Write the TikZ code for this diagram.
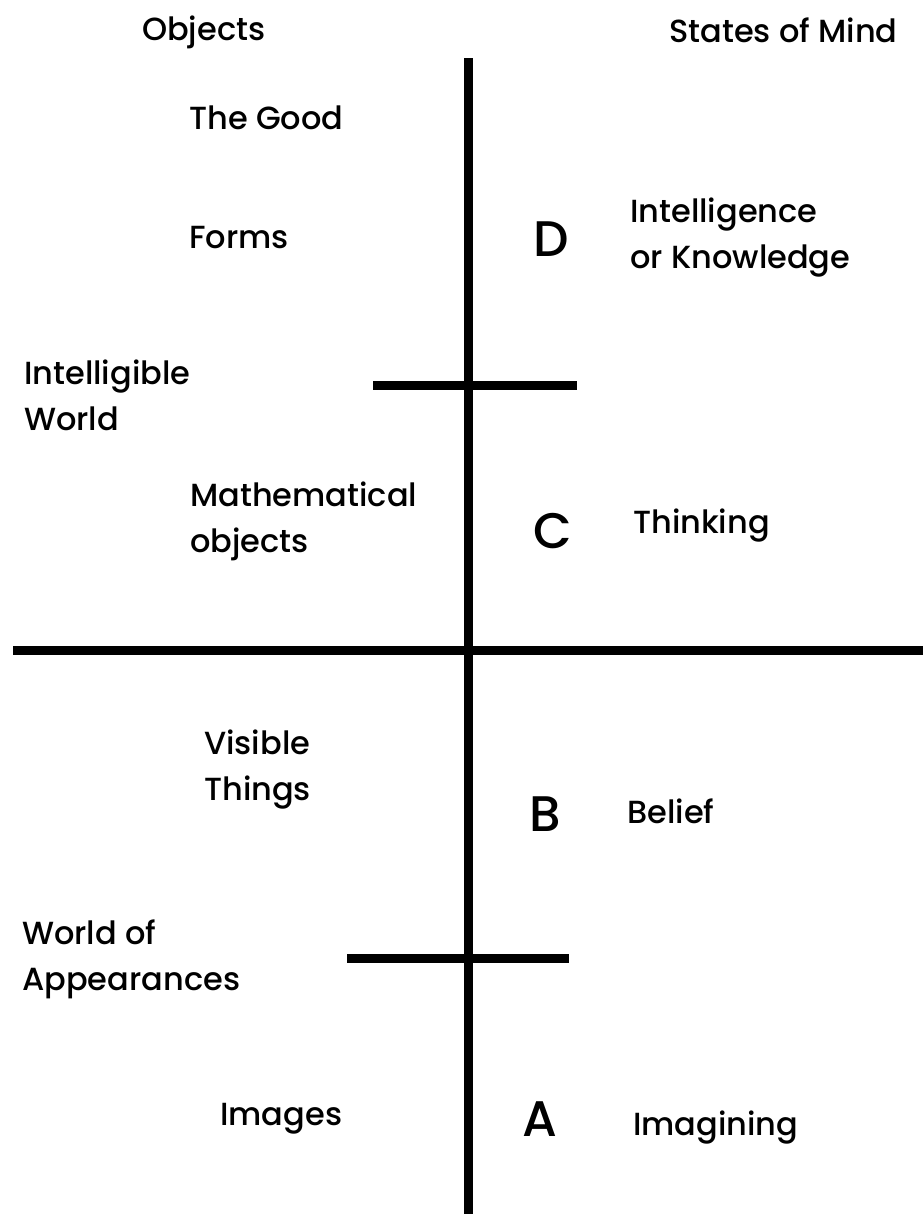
\documentclass[tikz,border=0pt]{standalone}
\usepackage{fontspec}
\setmainfont{Poppins}[BoldFont={* Medium}]
\usepackage{tikz}

\begin{document}
\begin{tikzpicture}[x=1pt, y=-1pt,
        lbl/.style={anchor=base west, align=left, inner sep=0pt,
            font=\fontsize{32}{46}\selectfont\bfseries},
        sec/.style={anchor=base west, inner sep=0pt,
            font=\fontsize{50}{50}\selectfont\bfseries},
        bar/.style={line width=9pt}]
        \useasboundingbox (0,0) rectangle (923,1218);

        % Linien
        \coordinate (top) at (468,58);
        \coordinate (bot) at (468,1214);
        \draw[bar] (top) -- (bot);
        \draw[bar] (13,650) -- (923,650);
        \draw[bar] (373,385) -- (577,385);
        \draw[bar] (347,958) -- (569,958);

        % Kopfzeile
        \node[lbl] (obj) at (142,40) {Objects};
        \node[lbl] (som) at (669,42) {States of Mind};

        % linke Seite (Basislinie = letzte Zeile)
        \node[lbl] (good) at (189,129) {The Good};
        \node[lbl] (forms) at (189,248) {Forms};
        \node[lbl] (intw) at (24,430) {Intelligible\\World};
        \node[lbl] (math) at (190,552) {Mathematical\\objects};
        \node[lbl] (vis) at (204,800) {Visible\\Things};
        \node[lbl] (woa) at (22,990) {World of\\Appearances};
        \node[lbl] (img) at (220,1125) {Images};

        % Abschnitte
        \node[sec] (secD) at (533,256) {D};
        \node[sec] (secC) at (533,548) {C};
        \node[sec] (secB) at (529,831) {B};
        \node[sec] (secA) at (522,1136) {A};

        % rechte Seite
        \node[lbl] (intk) at (630,268) {Intelligence\\or Knowledge};
        \node[lbl] (think) at (633,533) {Thinking};
        \node[lbl] (belief) at (627,823) {Belief};
        \node[lbl] (imgn) at (633,1135) {Imagining};
\end{tikzpicture}
\end{document}
